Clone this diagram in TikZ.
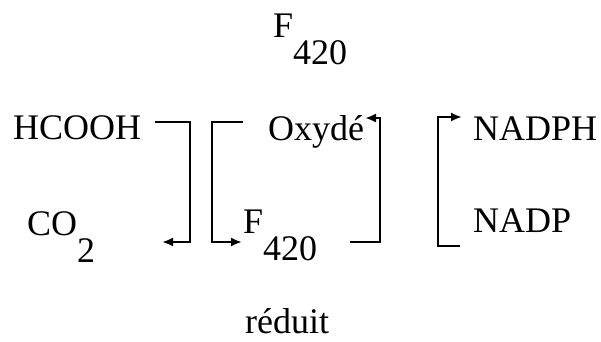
\documentclass[tikz,border=0pt]{standalone}
\usepackage{fontspec}
\setmainfont{Liberation Serif}
\usetikzlibrary{arrows.meta}

\begin{document}
\begin{tikzpicture}[x=1pt,y=-1pt,
    lbl/.style={anchor=base west,inner sep=0pt,font=\fontsize{36}{40}\selectfont},
    bracket/.style={line width=2.1pt,-{Latex[length=11pt,width=9pt]}}]
  \useasboundingbox (0,0) rectangle (601,341);
  % textes
  \node[lbl] (f420) at (273,37) {F\raisebox{-27pt}{420}};
  \node[lbl] (hcooh) at (13,139) {HCOOH};
  \node[lbl] (co2) at (27,235) {CO\raisebox{-27pt}{2}};
  \node[lbl] (oxyde) at (268,140) {Oxydé};
  \node[lbl] (f420red) at (243,233) {F\raisebox{-27pt}{420}};
  \node[lbl] (nadph) at (473,140) {NADPH};
  \node[lbl] (nadp) at (473,232) {NADP};
  \node[lbl,text depth=0pt] (reduit) at (245,333) {réduit};
  % extrémités des flèches
  \coordinate (hcoohout) at (155,122);
  \coordinate (co2in) at (162,242);
  \coordinate (oxydeout) at (243,122);
  \coordinate (f420in) at (242,242);
  \coordinate (f420out) at (350,242);
  \coordinate (oxydein) at (365,118);
  \coordinate (nadpout) at (460,246);
  \coordinate (nadphin) at (462,117);
  % crochets
  \draw[bracket] (hcoohout) -- ++(35,0) |- (co2in);
  \draw[bracket] (oxydeout) -- ++(-31,0) |- (f420in);
  \draw[bracket] (f420out) -- ++(30,0) |- (oxydein);
  \draw[bracket] (nadpout) -- ++(-22,0) |- (nadphin);
\end{tikzpicture}
\end{document}
